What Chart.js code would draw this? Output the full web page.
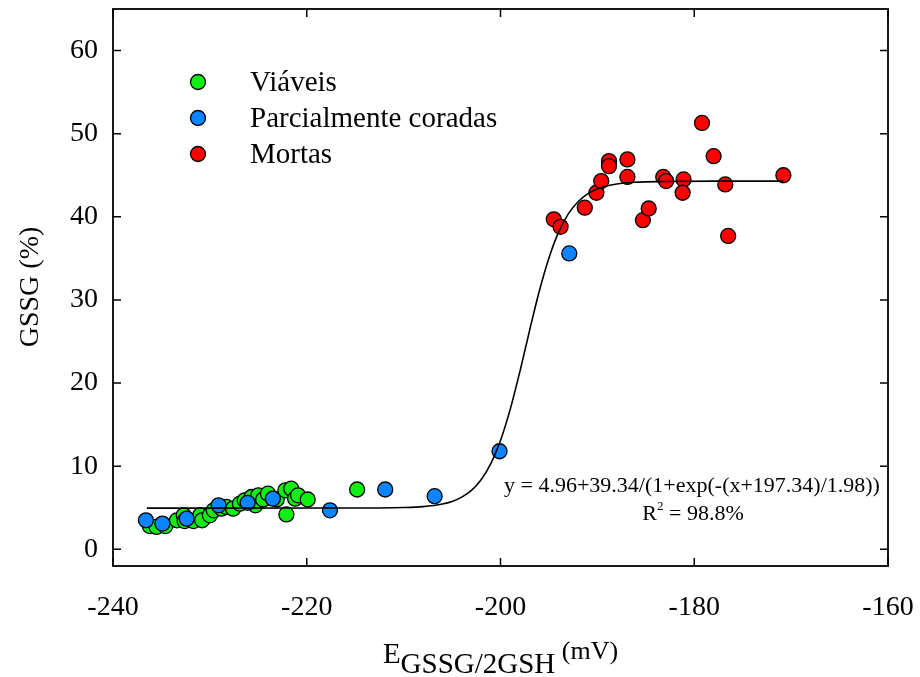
<!DOCTYPE html>
<html>
<head>
<meta charset="utf-8">
<script src="https://cdn.jsdelivr.net/npm/chart.js@4/dist/chart.umd.min.js"></script>
<style>
  html, body { margin: 0; padding: 0; background: #fff; }
  #wrap { width: 920px; height: 677px; }
</style>
</head>
<body>
<div id="wrap"><canvas id="chart" width="920" height="677"></canvas></div>
<script>
(function () {
    'use strict';

    // Viáveis (verde)
    var viaveisX = [-236.2, -235.5, -234.6, -233.4, -232.7, -232.6, -231.7, -231.0, -230.8, -230.0,
                    -229.6, -228.8, -228.3, -227.6, -226.9, -226.4, -225.7, -225.3, -225.0, -224.5,
                    -224.0, -223.1, -222.2, -222.1, -221.6, -221.2, -220.9, -219.9, -214.8];
    var viaveisY = [2.8, 2.7, 2.8, 3.5, 4.1, 3.4, 3.4, 4.1, 3.5, 4.1,
                    4.7, 4.9, 5.1, 4.9, 5.5, 5.9, 6.3, 5.3, 6.5, 6.0,
                    6.7, 6.0, 7.1, 4.2, 7.3, 6.1, 6.5, 6.0, 7.2];

    // Parcialmente coradas (azul)
    var parciaisX = [-236.6, -234.9, -232.4, -229.1, -226.1, -223.5, -217.6, -211.9, -206.8, -200.1, -192.9];
    var parciaisY = [3.5, 3.1, 3.7, 5.3, 5.6, 6.1, 4.7, 7.2, 6.4, 11.8, 35.6];

    // Mortas (vermelho)
    var mortasX = [-194.5, -193.8, -191.3, -190.1, -189.6, -188.8, -188.8, -186.9, -186.9, -185.3,
                   -184.7, -183.2, -182.9, -181.1, -181.2, -179.2, -178.0, -176.8, -176.5, -170.8];
    var mortasY = [39.7, 38.8, 41.1, 42.9, 44.3, 46.7, 46.1, 46.9, 44.8, 39.6,
                   41.0, 44.8, 44.3, 44.5, 42.9, 51.3, 47.3, 43.9, 37.7, 45.0];

    // Curva ajustada
    var fitX = [-236.5, -215, -210, -208, -206, -205, -204, -203, -202, -201, -200, -199, -198,
                -197, -196, -195, -194, -193, -192, -191, -190, -188, -186, -183, -178, -170.8];
    var fitY = [4.96, 4.97, 5.03, 5.14, 5.45, 5.76, 6.28, 7.09, 8.37, 10.31, 13.10, 16.84, 21.38,
                26.32, 31.05, 35.06, 38.16, 40.35, 41.82, 42.76, 43.36, 43.95, 44.17, 44.25, 44.30, 44.30];

    var xTicks = [-240, -220, -200, -180, -160];
    var yTicks = [0, 10, 20, 30, 40, 50, 60];

    var legendItems = [
        { label: 'Viáveis', color: '#11ee11' },
        { label: 'Parcialmente coradas', color: '#0a84ff' },
        { label: 'Mortas', color: '#ff0000' }
    ];

    var SERIF = '"Liberation Serif", "Times New Roman", serif';

    function pts(xs, ys) {
        return xs.map(function (x, i) { return { x: x, y: ys[i] }; });
    }

    function scatterSet(label, xs, ys, color, order) {
        return {
            label: label,
            data: pts(xs, ys),
            pointRadius: 7.5,
            pointHoverRadius: 7.5,
            pointBackgroundColor: color,
            pointBorderColor: '#000',
            pointBorderWidth: 1.3,
            showLine: false,
            order: order
        };
    }

    var decorations = {
        id: 'decorations',
        afterDraw: function (chart) {
            var ctx = chart.ctx;
            var a = chart.chartArea;
            var xs = chart.scales.x, ys = chart.scales.y;
            ctx.save();
            ctx.strokeStyle = '#000';
            ctx.fillStyle = '#000';

            // moldura
            ctx.lineWidth = 1.8;
            ctx.strokeRect(a.left, a.top, a.right - a.left, a.bottom - a.top);

            // marcas para dentro
            var tl = 8;
            ctx.lineWidth = 1.5;
            ctx.beginPath();
            yTicks.forEach(function (v) {
                var py = ys.getPixelForValue(v);
                ctx.moveTo(a.left, py); ctx.lineTo(a.left + tl, py);
                ctx.moveTo(a.right, py); ctx.lineTo(a.right - tl, py);
            });
            xTicks.forEach(function (v) {
                var px = xs.getPixelForValue(v);
                ctx.moveTo(px, a.bottom); ctx.lineTo(px, a.bottom - tl);
                ctx.moveTo(px, a.top); ctx.lineTo(px, a.top + tl);
            });
            ctx.stroke();

            // legenda
            var ly = [82, 118, 154];
            legendItems.forEach(function (it, i) {
                ctx.beginPath();
                ctx.arc(198, ly[i], 7.5, 0, Math.PI * 2);
                ctx.fillStyle = it.color;
                ctx.fill();
                ctx.lineWidth = 1.3;
                ctx.stroke();
                ctx.fillStyle = '#000';
                ctx.font = '29px ' + SERIF;
                ctx.textAlign = 'left';
                ctx.textBaseline = 'alphabetic';
                ctx.fillText(it.label, 250, ly[i] + 9);
            });

            // equação
            ctx.font = '22px ' + SERIF;
            ctx.textAlign = 'center';
            ctx.fillText('y = 4.96+39.34/(1+exp(-(x+197.34)/1.98))', 692, 492);
            var p1 = 'R', p3 = ' = 98.8%';
            ctx.font = '22px ' + SERIF;
            var w1 = ctx.measureText(p1).width, w3 = ctx.measureText(p3).width;
            ctx.font = '13px ' + SERIF;
            var w2 = ctx.measureText('2').width;
            var sx = 693 - (w1 + w2 + w3) / 2;
            ctx.textAlign = 'left';
            ctx.font = '22px ' + SERIF;
            ctx.fillText(p1, sx, 520);
            ctx.font = '13px ' + SERIF;
            ctx.fillText('2', sx + w1, 510);
            ctx.font = '22px ' + SERIF;
            ctx.fillText(p3, sx + w1 + w2, 520);

            // título eixo y
            ctx.save();
            ctx.translate(31, 287);
            ctx.rotate(-Math.PI / 2);
            ctx.font = '28px ' + SERIF;
            ctx.textAlign = 'center';
            ctx.textBaseline = 'middle';
            ctx.fillText('GSSG (%)', 0, 0);
            ctx.restore();

            // título eixo x
            ctx.textAlign = 'left';
            ctx.textBaseline = 'alphabetic';
            ctx.font = '29px ' + SERIF;
            var eW = ctx.measureText('E').width;
            var sW = ctx.measureText('GSSG/2GSH').width;
            ctx.font = '26px ' + SERIF;
            var mW = ctx.measureText(' (mV)').width;
            var tx = (a.left + a.right) / 2 - (eW + sW + mW) / 2;
            ctx.font = '29px ' + SERIF;
            ctx.fillText('E', tx, 663);
            ctx.fillText('GSSG/2GSH', tx + eW, 673);
            ctx.font = '26px ' + SERIF;
            ctx.fillText(' (mV)', tx + eW + sW, 659);

            ctx.restore();
        }
    };

    new Chart(document.getElementById('chart'), {
        type: 'scatter',
        data: {
            datasets: [
                {
                    type: 'line',
                    label: 'Ajuste',
                    data: pts(fitX, fitY),
                    borderColor: '#000',
                    borderWidth: 1.6,
                    pointRadius: 0,
                    fill: false,
                    cubicInterpolationMode: 'monotone',
                    order: 0
                },
                scatterSet('Mortas', mortasX, mortasY, '#ff0000', 1),
                scatterSet('Parcialmente coradas', parciaisX, parciaisY, '#0a84ff', 2),
                scatterSet('Viáveis', viaveisX, viaveisY, '#11ee11', 3)
            ]
        },
        options: {
            responsive: false,
            devicePixelRatio: 1,
            animation: false,
            layout: { padding: { top: 9, right: 32, left: 0, bottom: 0 } },
            plugins: {
                legend: { display: false },
                tooltip: { enabled: false }
            },
            scales: {
                x: {
                    type: 'linear',
                    min: -240,
                    max: -160,
                    grid: { display: false, drawTicks: false },
                    border: { display: false },
                    afterBuildTicks: function (s) {
                        s.ticks = xTicks.map(function (v) { return { value: v }; });
                    },
                    afterFit: function (s) {
                        s.height = 111;
                        s.paddingLeft = 0; s.paddingRight = 0;
                    },
                    ticks: {
                        color: '#000',
                        maxRotation: 0,
                        padding: 25,
                        font: { family: SERIF, size: 28 }
                    }
                },
                y: {
                    type: 'linear',
                    min: -2,
                    max: 65,
                    grid: { display: false, drawTicks: false },
                    border: { display: false },
                    afterBuildTicks: function (s) {
                        s.ticks = yTicks.map(function (v) { return { value: v }; });
                    },
                    afterFit: function (s) {
                        s.width = 113;
                        s.paddingTop = 0; s.paddingBottom = 0;
                    },
                    ticks: {
                        color: '#000',
                        padding: 15,
                        font: { family: SERIF, size: 28 }
                    }
                }
            }
        },
        plugins: [decorations]
    });
})();
</script>
</body>
</html>
